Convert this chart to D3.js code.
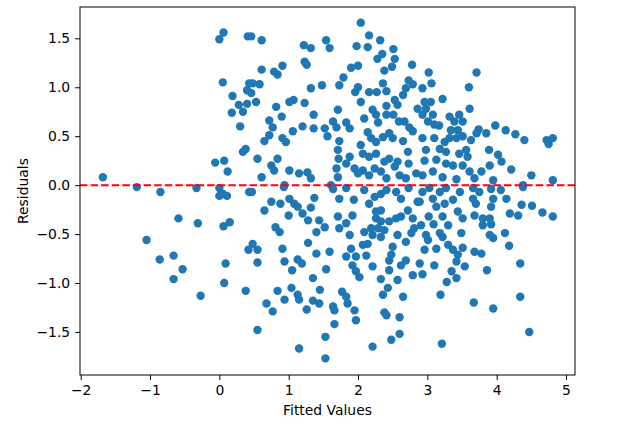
<!DOCTYPE html>
<html>
<head>
<meta charset="utf-8">
<script src="https://cdn.jsdelivr.net/npm/d3@7"></script>
<style>
  body { margin: 0; background: #fff; }
  text { font-family: "DejaVu Sans", sans-serif; }
</style>
</head>
<body>
<svg id="chart" width="640" height="428"></svg>
<script>
// fitted values (x) and residuals (y), same order
const fittedValues = [
  // far left
  -1.68, -1.19, -0.85, -0.33, 0.0, 0.05, 0.0, 0.11, 0.43, -0.59, -0.31, 0.06, 0.15,
  -1.05, -0.86, -0.66, -0.53, -0.66, -0.27, 0.09, 0.07, 0.38, 0.42,
  0.0, 0.06, 0.41, 0.05, 0.19, 0.28, 0.18, 0.34, 0.40, 0.40, 0.43, 0.30, 0.34, 0.38, -0.06, 0.07, 0.12,
  // upper middle
  0.46, 0.61, 2.04, 1.22, 1.32, 1.54, 1.59, 1.98, 2.14, 2.16, 2.32, 2.51, 2.28, 2.35, 2.53, 2.49, 2.78, 2.38,
  1.90, 2.0, 1.23, 1.26, 0.91, 0.79, 0.84, 0.61, 1.79, 1.73, 1.48, 1.32, 0.48, 0.58, 0.46, 0.53,
  2.0, 1.96, 2.04, 2.16, 2.27, 2.36, 2.41, 2.73, 2.79, 2.69, 2.65, 2.53, 2.57, 2.41, 2.86,
  1.01, 1.07, 1.23, 0.82, 0.90, 1.71, 1.36, 2.21, 2.26, 2.29, 2.09,
  2.41, 2.51, 2.59, 2.67, 2.74, 2.79, 0.72, 0.77, 1.20, 1.06, 1.36, 1.52, 1.64, 1.69, 1.56, 1.83, 1.88,
  2.14, 2.19, 2.26, 2.36, 2.45, 2.50, 2.65, 0.65, 0.72, 0.91, 0.96, 1.73, 1.71, 2.04, 2.07,
  2.16, 2.26, 2.38, 2.45, 2.57, 2.72, 2.73, 0.55, 0.84, 0.75, 0.79, 1.01, 1.15, 1.27, 1.32, 0.61,
  1.72, 1.69, 1.83, 1.88, 1.95, 2.0, 2.07, 2.16, 2.24, 2.33, 2.41, 2.53, 2.6, 2.69, 2.84, 1.71, 1.61, 0.94,
  // upper right
  3.71, 3.02, 3.06, 2.93, 3.60, 3.22, 2.96, 3.05, 2.98, 2.93, 3.08, 3.01, 3.17, 3.10, 3.61,
  3.32, 3.46, 3.51, 3.39, 3.34, 3.44, 3.74, 3.71, 3.85, 3.98, 4.13, 4.27, 4.40, 4.72, 4.81, 4.75,
  2.93, 3.10, 3.25, 3.32, 3.42, 3.51, 3.63, 2.98, 3.18, 3.27, 3.46, 3.56, 3.58, 3.89, 4.02, 4.07, 3.90,
  2.96, 3.13, 3.27, 3.37, 3.51, 4.21, 4.50, 4.81, 2.93, 3.08, 3.22, 3.42, 3.61, 3.78, 3.68, 3.95, 4.38,
  // lower middle
  0.47, 0.93, 1.64, 1.73, 1.83, 1.94, 2.09, 2.16, 2.24, 2.33, 2.41, 2.55, 2.62, 2.73, 2.86,
  0.75, 0.88, 0.65, 1.01, 1.08, 1.13, 1.37, 1.32, 1.00, 1.20, 1.28, 1.44, 1.52, 1.40, 0.81, 0.87,
  1.71, 1.73, 1.83, 1.88, 1.92, 2.09, 2.26, 2.33, 2.26, 2.33, 2.29, 2.38, 2.45, 2.55, 2.62, 2.57, 2.72, 2.79, 2.81, 2.69, 2.77,
  2.19, 2.21, 2.33, 0.48, 0.55, 0.55, 0.91, 0.94, 1.05, 1.13, 1.19, 1.28, 1.40, 1.59, 1.54,
  1.83, 1.90, 1.97, 2.07, 2.14, 2.12, 1.92, 1.97, 2.02, 2.21,
  2.50, 2.48, 2.45, 2.62, 2.45, 2.69, 2.79, 2.57, 2.33, 2.43, 2.36, 1.35, 1.45,
  0.84, 0.94, 0.68, 0.77, 1.04, 1.13, 1.15, 1.26, 1.35, 1.44, 1.77, 1.83, 1.85, 1.95, 1.64, 1.66, 1.97, 1.66,
  2.38, 2.41, 2.60, 2.65, 0.55, 1.53, 2.60, 2.48, 1.15, 2.21, 1.53,
  // lower right
  2.93, 3.03, 3.18, 3.27, 3.47, 3.66, 3.75, 3.92, 4.06, 4.38,
  2.89, 3.08, 3.13, 3.25, 3.37, 3.66, 3.70, 3.95, 4.14, 3.92,
  4.19, 4.31, 4.36, 4.51, 4.66, 4.81,
  3.02, 3.22, 3.30, 3.44, 3.51, 3.68, 3.80, 3.90, 3.80, 3.92,
  2.91, 3.09, 3.18, 3.22, 3.49, 2.98, 3.01, 3.90, 3.95, 4.12, 4.18,
  2.96, 3.13, 3.30, 3.37, 3.44, 3.51, 3.42, 3.54, 3.10, 3.68, 3.78,
  2.89, 2.93, 3.35, 3.28, 3.42, 3.86, 4.34, 3.19, 3.67, 3.95, 4.34, 4.47, 3.21
];
const residuals = [
  0.08, -0.02, -0.07, -0.03, -0.03, -0.09, -0.11, -0.11, -0.07, -0.34, -0.39, -0.42, -0.38,
  -0.56, -0.76, -0.72, -0.86, -0.96, -1.13, -0.80, -1.00, -1.08, -0.66,
  1.49, 1.56, 1.52, 1.05, 0.91, 0.82, 0.74, 0.75, 0.83, 0.97, 1.04, 0.60, 0.34, 0.37, 0.23, 0.25, 0.14,
  1.52, 1.48, 1.66, 1.43, 1.40, 1.48, 1.40, 1.42, 1.41, 1.53, 1.48, 1.39, 1.29, 1.34, 1.29, 1.21, 1.23, 1.17,
  1.20, 1.22, 1.26, 1.23, 1.22, 1.16, 1.13, 1.18, 1.10, 1.02, 1.02, 0.99, 1.04, 1.03, 0.94, 0.85,
  1.00, 0.95, 0.85, 0.95, 0.95, 1.04, 0.96, 1.07, 1.03, 0.99, 0.92, 0.87, 0.82, 0.81, 0.78,
  0.85, 0.87, 0.84, 0.80, 0.70, 0.77, 0.72, 0.77, 0.72, 0.64, 0.68,
  0.72, 0.72, 0.65, 0.65, 0.59, 0.55, 0.66, 0.59, 0.60, 0.55, 0.58, 0.58, 0.65, 0.59, 0.50, 0.64, 0.58,
  0.54, 0.48, 0.44, 0.49, 0.53, 0.48, 0.45, 0.45, 0.51, 0.48, 0.44, 0.45, 0.36, 0.41, 0.32,
  0.29, 0.32, 0.24, 0.27, 0.24, 0.34, 0.22, 0.27, 0.27, 0.20, 0.15, 0.15, 0.12, 0.13, 0.07, 0.08,
  0.27, 0.17, 0.22, 0.29, 0.17, 0.12, 0.15, 0.10, 0.17, 0.14, 0.07, 0.19, 0.10, 0.07, 0.12, 0.08, 0.0, 0.0,
  1.15, 1.15, 1.04, 0.99, 1.00, 0.88, 0.85, 0.85, 0.78, 0.72, 0.72, 0.65, 0.61, 0.62, 0.78,
  0.70, 0.72, 0.65, 0.65, 0.56, 0.56, 0.57, 0.53, 0.53, 0.61, 0.56, 0.52, 0.46, 0.46, 0.48, 0.42,
  0.48, 0.48, 0.44, 0.48, 0.48, 0.50, 0.46, 0.36, 0.37, 0.34, 0.32, 0.36, 0.29, 0.36, 0.31, 0.24, 0.20,
  0.25, 0.26, 0.22, 0.20, 0.20, 0.16, 0.10, 0.05, 0.10, 0.14, 0.08, 0.06, 0.14, 0.14, 0.07, 0.05, 0.0,
  -0.07, -0.02, -0.04, -0.14, -0.03, -0.15, -0.05, -0.19, -0.12, -0.09, -0.05, -0.07, -0.14, -0.03, -0.17,
  -0.17, -0.19, -0.26, -0.14, -0.19, -0.22, -0.13, -0.23, -0.31, -0.29, -0.36, -0.36, -0.43, -0.48, -0.43, -0.48,
  -0.32, -0.44, -0.39, -0.51, -0.31, -0.48, -0.27, -0.26, -0.34, -0.37, -0.44, -0.46, -0.37, -0.34, -0.32, -0.51, -0.26, -0.34, -0.44, -0.58, -0.49,
  -0.44, -0.51, -0.53, -0.60, -0.66, -0.79, -0.65, -0.78, -0.87, -0.76, -0.80, -0.59, -0.70, -0.68, -0.86,
  -0.73, -0.65, -0.73, -0.61, -0.60, -0.72, -0.82, -0.88, -0.94, -0.83,
  -0.63, -0.71, -0.77, -0.82, -0.87, -0.77, -0.92, -0.97, -0.96, -1.05, -1.12, -0.95, -1.07,
  -1.08, -1.17, -1.21, -1.29, -1.05, -1.12, -1.17, -1.27, -1.18, -1.21, -1.09, -1.14, -1.21, -1.28, -1.24, -1.28, -1.38, -1.42,
  -1.30, -1.33, -1.35, -1.14, -1.48, -1.55, -1.52, -1.58, -1.67, -1.65, -1.77,
  -0.07, -0.03, -0.07, -0.03, -0.07, -0.03, -0.07, -0.04, -0.05, -0.02,
  -0.17, -0.14, -0.22, -0.19, -0.15, -0.14, -0.19, -0.14, -0.14, -0.22,
  -0.29, -0.31, -0.20, -0.21, -0.28, -0.32,
  -0.32, -0.32, -0.41, -0.27, -0.34, -0.31, -0.34, -0.34, -0.41, -0.40,
  -0.41, -0.40, -0.49, -0.53, -0.49, -0.51, -0.56, -0.51, -0.54, -0.49, -0.62,
  -0.66, -0.65, -0.61, -0.66, -0.71, -0.64, -0.78, -0.83, -0.82, -0.68, -0.70,
  -0.80, -0.91, -0.88, -0.99, -0.95, -0.87, -0.80, -1.12, -1.20, -1.26, -1.14, -1.50, -1.62
];
const xTicks = [-2, -1, 0, 1, 2, 3, 4, 5];
const yTicks = [-1.5, -1.0, -0.5, 0.0, 0.5, 1.0, 1.5];

const svg = d3.select("#chart");
const margin = { top: 7, right: 65, bottom: 53, left: 80 };
const innerWidth = 640 - margin.left - margin.right;
const innerHeight = 428 - margin.top - margin.bottom;

const xScale = d3.scaleLinear().domain([-2.01, 5.13]).range([0, innerWidth]);
const yScale = d3.scaleLinear().domain([-1.94, 1.82]).range([innerHeight, 0]);

const g = svg.append("g").attr("transform", `translate(${margin.left}, ${margin.top})`);

const points = fittedValues.map((x, i) => ({ x: x, y: residuals[i] }));

g.selectAll("circle")
  .data(points)
  .enter()
  .append("circle")
  .attr("cx", (d) => xScale(d.x))
  .attr("cy", (d) => yScale(d.y))
  .attr("r", 4.2)
  .attr("fill", "#1f77b4");

g.append("line")
  .attr("x1", 0)
  .attr("x2", innerWidth)
  .attr("y1", yScale(0))
  .attr("y2", yScale(0))
  .attr("stroke", "red")
  .attr("stroke-width", 2)
  .attr("stroke-dasharray", "7.4,3.2");

const xAxisG = g.append("g")
  .attr("transform", `translate(0, ${innerHeight})`)
  .call(d3.axisBottom(xScale).tickValues(xTicks).tickSize(4.9).tickPadding(4.9).tickFormat(d3.format("d")));
const yAxisG = g.append("g")
  .call(d3.axisLeft(yScale).tickValues(yTicks).tickSize(4.9).tickPadding(4.9).tickFormat(d3.format(".1f")));

[xAxisG, yAxisG].forEach((ax) => {
  ax.select(".domain").remove();
  ax.selectAll(".tick line").attr("stroke", "#000").attr("stroke-width", 1);
  ax.selectAll(".tick text").attr("font-size", 13.9).attr("fill", "#000")
    .attr("font-family", "DejaVu Sans, sans-serif")
    .text(function () { return d3.select(this).text().replace("-", "\u2212"); });
});

g.append("rect")
  .attr("width", innerWidth)
  .attr("height", innerHeight)
  .attr("fill", "none")
  .attr("stroke", "#000")
  .attr("stroke-width", 1);

g.append("text")
  .attr("x", innerWidth / 2)
  .attr("y", innerHeight + 40)
  .attr("text-anchor", "middle")
  .attr("font-size", 13.9)
  .text("Fitted Values");

g.append("text")
  .attr("transform", `translate(-52, ${innerHeight / 2}) rotate(-90)`)
  .attr("text-anchor", "middle")
  .attr("font-size", 13.9)
  .text("Residuals");
</script>
</body>
</html>
